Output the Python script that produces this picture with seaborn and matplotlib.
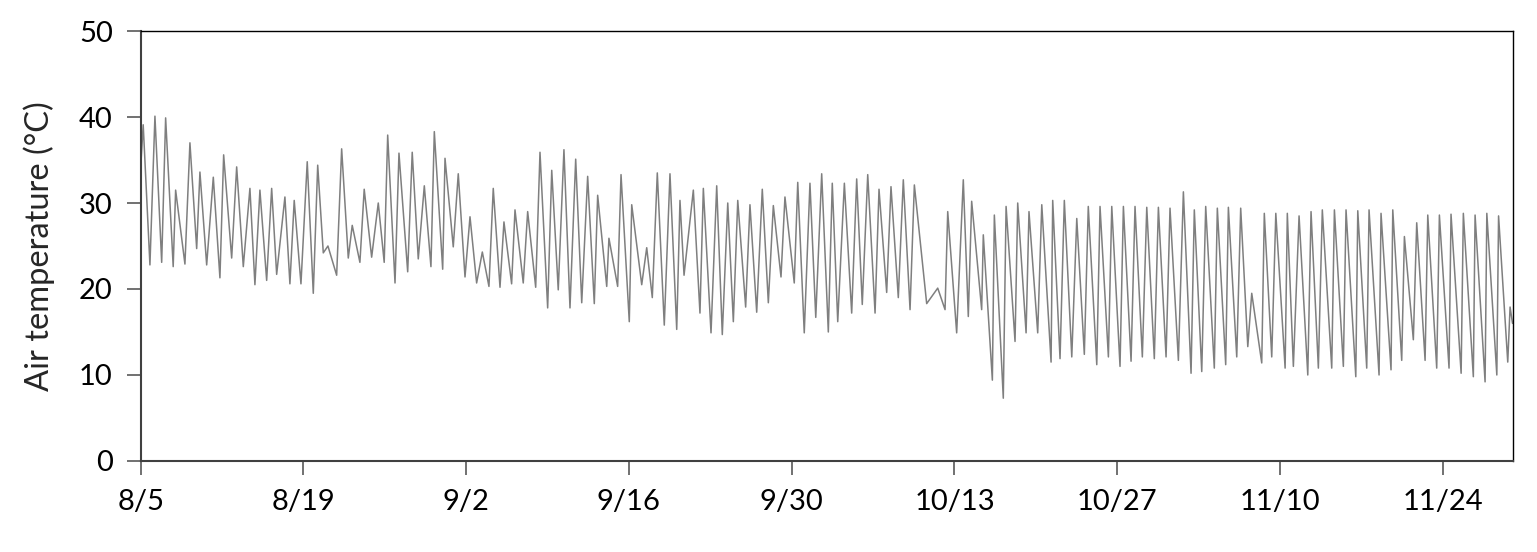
import matplotlib
matplotlib.use("Agg")
import matplotlib.pyplot as plt
import pandas as pd
import seaborn as sns

# daily highs and lows (days after 8/5, deg C)
peak_day = [
    0.22, 1.23, 2.15, 3.01, 4.24, 5.10, 6.25, 7.14, 8.26, 9.40,
    10.26, 11.27, 12.41, 13.21, 14.33, 15.23, 16.11, 17.29, 18.20, 19.23,
    20.44, 21.25, 22.22, 23.36, 24.40, 25.26, 26.18, 27.32, 28.33, 29.39,
    30.33, 31.25, 32.20, 33.29, 34.35, 35.36, 36.41, 37.42, 38.45, 39.31,
    40.28, 41.32, 42.24, 43.53, 44.44, 45.53, 46.39, 47.54, 48.40, 49.55,
    50.50, 51.36, 52.41, 53.47, 54.42, 55.42, 56.52, 57.57, 58.58, 59.49,
    60.53, 61.59, 62.54, 63.51, 64.54, 65.60, 66.55, 68.56, 69.42, 70.76,
    71.48, 72.48, 73.43, 74.44, 75.44, 76.41, 77.51, 78.45, 79.45, 80.52,
    81.51, 82.52, 83.53, 84.53, 85.53, 86.54, 87.54, 88.54, 89.69, 90.63,
    91.61, 92.61, 93.56, 94.62, 95.57, 96.65, 97.64, 98.63, 99.64, 100.67,
    101.64, 102.68, 103.68, 104.69, 105.66, 106.69, 107.70, 108.70, 109.76, 110.71,
    111.71, 112.71, 113.77, 114.78, 115.79, 116.80, 117.79]
peak_temp = [
    39.1, 40.1, 39.9, 31.5, 37.0, 33.6, 33.0, 35.6, 34.2, 31.7,
    31.5, 31.7, 30.7, 30.3, 34.8, 34.4, 25.0, 36.3, 27.4, 31.6,
    30.0, 37.9, 35.8, 35.9, 32.0, 38.3, 35.2, 33.4, 28.4, 24.3,
    31.7, 27.8, 29.2, 29.0, 35.9, 33.8, 36.2, 35.1, 33.1, 30.9,
    25.9, 33.3, 29.8, 24.8, 33.5, 33.4, 30.3, 31.5, 31.7, 32.0,
    30.0, 30.3, 29.8, 31.6, 29.7, 30.7, 32.4, 32.3, 33.4, 32.3,
    32.3, 32.8, 33.3, 31.6, 31.9, 32.7, 32.1, 20.1, 29.0, 32.7,
    30.2, 26.3, 28.6, 29.6, 30.0, 29.0, 29.8, 30.3, 30.3, 28.2,
    29.6, 29.6, 29.6, 29.6, 29.6, 29.5, 29.5, 29.4, 31.3, 29.2,
    29.6, 29.4, 29.5, 29.4, 19.5, 28.8, 28.8, 28.8, 28.5, 29.0,
    29.2, 29.2, 29.2, 29.1, 29.2, 28.8, 29.2, 26.1, 27.7, 28.6,
    28.6, 28.7, 28.8, 28.6, 28.8, 28.5, 17.9]

low_day = [
    0.0, 0.80, 1.81, 2.80, 3.81, 4.82, 5.68, 6.82, 7.83, 8.83,
    9.83, 10.84, 11.70, 12.84, 13.79, 14.85, 15.71, 16.86, 17.86, 18.86,
    19.87, 20.95, 21.88, 22.97, 23.88, 24.97, 25.98, 26.89, 27.90, 28.90,
    29.96, 30.91, 31.91, 32.91, 33.98, 35.01, 35.92, 36.93, 37.94, 39.02,
    40.09, 41.03, 42.03, 43.10, 44.01, 45.04, 46.11, 46.74, 48.11, 49.06,
    50.03, 50.98, 52.04, 52.99, 53.99, 55.08, 56.22, 57.08, 58.07, 59.15,
    59.96, 61.16, 62.07, 63.17, 64.17, 65.17, 66.18, 67.61, 69.19, 70.19,
    71.19, 72.34, 73.26, 74.20, 75.21, 76.16, 77.16, 78.31, 79.08, 80.09,
    81.17, 82.24, 83.24, 84.24, 85.19, 86.16, 87.19, 88.20, 89.26, 90.35,
    91.27, 92.35, 93.33, 94.28, 95.23, 96.43, 97.29, 98.44, 99.15, 100.39,
    101.30, 102.45, 103.45, 104.52, 105.46, 106.52, 107.55, 108.47, 109.47, 110.48,
    111.48, 112.54, 113.58, 114.63, 115.64, 116.65, 117.59, 118.0]
low_temp = [
    34.0, 22.8, 23.1, 22.6, 22.9, 24.7, 22.8, 21.3, 23.6, 22.6,
    20.5, 21.0, 21.7, 20.6, 20.6, 19.5, 24.2, 21.6, 23.6, 23.1,
    23.7, 23.1, 20.7, 22.0, 23.5, 22.6, 22.3, 24.9, 21.4, 20.7,
    20.3, 20.2, 20.6, 20.7, 20.2, 17.8, 19.9, 17.8, 18.4, 18.3,
    20.3, 20.3, 16.2, 20.5, 19.0, 15.8, 15.3, 21.6, 17.2, 14.9,
    14.7, 16.2, 17.9, 17.3, 18.4, 21.4, 20.7, 14.9, 16.7, 15.0,
    16.2, 17.2, 18.2, 17.2, 19.6, 19.0, 17.6, 18.3, 17.6, 14.9,
    16.8, 17.6, 9.4, 7.3, 13.9, 14.9, 14.9, 11.5, 11.9, 12.1,
    12.4, 11.2, 12.1, 11.0, 11.6, 12.1, 11.9, 12.1, 11.7, 10.2,
    10.4, 10.8, 11.2, 12.1, 13.3, 11.4, 12.1, 10.8, 11.0, 10.0,
    10.8, 10.8, 11.0, 9.8, 10.8, 10.0, 10.6, 11.7, 14.1, 11.7,
    10.8, 10.8, 10.2, 9.8, 9.2, 10.0, 11.5, 16.0]

tick_days = [0, 14, 28, 42, 56, 70, 84, 98, 112]
tick_labels = ['8/5', '8/19', '9/2', '9/16', '9/30', '10/13', '10/27', '11/10', '11/24']

df = pd.DataFrame({'day': peak_day + low_day, 'temp': peak_temp + low_temp})
df = df.sort_values('day').reset_index(drop=True)

sns.set_style('white')
plt.rcParams['font.family'] = ['Lato', 'DejaVu Sans']

fig = plt.figure(figsize=(15.37, 5.52), dpi=100)
ax = fig.add_axes([0.0915, 0.1649, 0.8931, 0.7789])

sns.lineplot(data=df, x='day', y='temp', color='#7f7f7f', linewidth=1.1,
             estimator=None, sort=True, ax=ax)

ax.set_xlim(0, 118.07)
ax.set_ylim(0, 50)
ax.set_yticks([0, 10, 20, 30, 40, 50])
ax.set_xticks(tick_days)
ax.set_xticklabels(tick_labels)
ax.set_xlabel('')
ax.set_ylabel('Air temperature (°C)', fontsize=23.5, labelpad=17)

ax.tick_params(axis='both', which='major', labelsize=21, direction='out',
               length=10, width=1.2, color='#595959', labelcolor='black',
               left=True, bottom=True)
ax.tick_params(axis='x', pad=10)
ax.tick_params(axis='y', pad=10)

for side in ['left', 'bottom']:
    ax.spines[side].set_color('#404040')
    ax.spines[side].set_linewidth(1.5)
for side in ['top', 'right']:
    ax.spines[side].set_color('black')
    ax.spines[side].set_linewidth(1.0)
    ax.spines[side].set_visible(True)

plt.savefig('out.png', dpi=100)
